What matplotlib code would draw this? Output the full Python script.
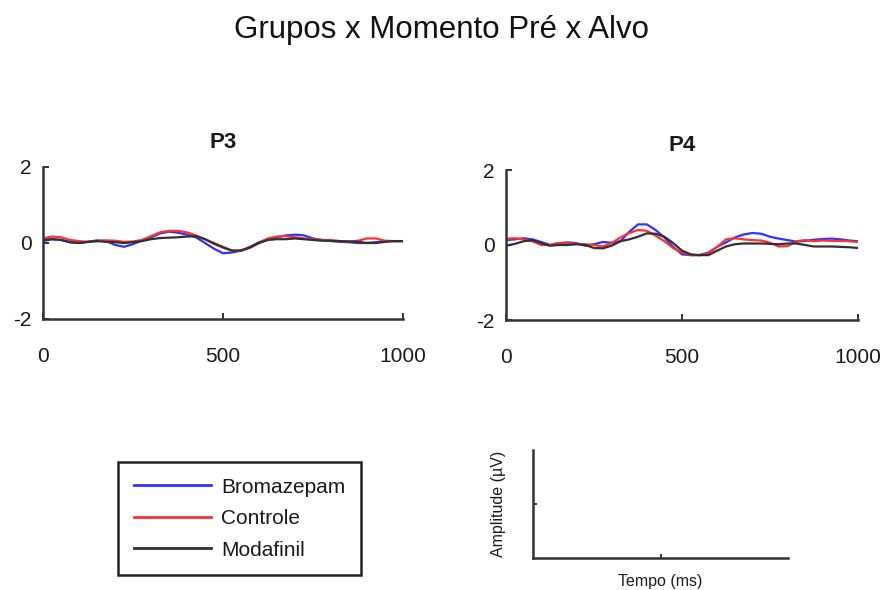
import matplotlib
matplotlib.use("Agg")
import matplotlib.pyplot as plt
from matplotlib.lines import Line2D

plt.rcParams['font.family'] = ['Liberation Sans', 'DejaVu Sans']

title = "Grupos x Momento Pré x Alvo"
groups = ["Bromazepam", "Controle", "Modafinil"]
colors = ["#3030ff", "#ff3030", "#303030"]
time_ms = list(range(0, 1001, 25))

p3_bromazepam = [0.05, 0.10, 0.08, 0.02, 0.00, 0.03, 0.07, 0.05, -0.05, -0.10, -0.03,
                 0.07, 0.15, 0.25, 0.30, 0.27, 0.22, 0.15, 0.00, -0.15, -0.27, -0.25,
                 -0.20, -0.10, 0.02, 0.10, 0.15, 0.20, 0.22, 0.20, 0.12, 0.08, 0.05,
                 0.03, 0.02, 0.00, 0.00, 0.02, 0.05, 0.05, 0.05]
p3_controle = [0.12, 0.17, 0.15, 0.08, 0.05, 0.03, 0.05, 0.07, 0.06, 0.03, 0.04,
               0.08, 0.18, 0.28, 0.32, 0.32, 0.28, 0.20, 0.10, 0.00, -0.10, -0.20,
               -0.20, -0.12, 0.00, 0.12, 0.17, 0.18, 0.15, 0.12, 0.10, 0.08, 0.07,
               0.05, 0.04, 0.06, 0.12, 0.12, 0.06, 0.05, 0.05]
p3_modafinil = [0.08, 0.10, 0.08, 0.02, 0.00, 0.03, 0.05, 0.03, 0.02, 0.00, 0.02,
                0.05, 0.10, 0.13, 0.14, 0.15, 0.17, 0.18, 0.10, -0.02, -0.12, -0.20,
                -0.20, -0.12, 0.00, 0.08, 0.10, 0.10, 0.12, 0.10, 0.08, 0.06, 0.06,
                0.05, 0.04, 0.03, 0.00, 0.00, 0.03, 0.05, 0.05]

p4_bromazepam = [0.13, 0.15, 0.18, 0.15, 0.08, 0.00, 0.05, 0.07, 0.05, -0.02, 0.02,
                 0.08, 0.06, 0.10, 0.35, 0.55, 0.55, 0.40, 0.20, -0.05, -0.25, -0.27,
                 -0.27, -0.20, -0.05, 0.07, 0.20, 0.28, 0.32, 0.30, 0.22, 0.17, 0.13,
                 0.09, 0.11, 0.14, 0.16, 0.17, 0.15, 0.12, 0.10]
p4_controle = [0.17, 0.18, 0.15, 0.10, 0.00, 0.00, 0.05, 0.05, 0.03, 0.02, 0.00,
               -0.04, 0.05, 0.20, 0.32, 0.40, 0.38, 0.25, 0.10, -0.08, -0.20, -0.27,
               -0.27, -0.22, -0.05, 0.15, 0.18, 0.15, 0.13, 0.12, 0.06, -0.04, -0.03,
               0.10, 0.13, 0.10, 0.12, 0.11, 0.11, 0.10, 0.08]
p4_modafinil = [-0.02, 0.03, 0.10, 0.13, 0.05, -0.02, 0.00, 0.00, 0.02, 0.00, -0.08,
                -0.09, -0.02, 0.10, 0.15, 0.22, 0.31, 0.30, 0.22, 0.05, -0.15, -0.25,
                -0.27, -0.27, -0.15, -0.04, 0.02, 0.04, 0.04, 0.04, 0.03, 0.02, 0.04,
                0.04, 0.00, -0.04, -0.04, -0.04, -0.05, -0.06, -0.08]

panels = [("P3", [p3_bromazepam, p3_controle, p3_modafinil]),
          ("P4", [p4_bromazepam, p4_controle, p4_modafinil])]
x_ticks = [0, 500, 1000]
y_ticks = [-2, 0, 2]

W, H = 883, 590
fig = plt.figure(figsize=(W / 100, H / 100), dpi=100)

def frac(l, t, r, b):
    return [l / W, 1 - b / H, (r - l) / W, (b - t) / H]

axes_boxes = [frac(43, 167, 403, 319), frac(506, 170, 858, 320)]
spine_col = "#333333"
txt_col = "#1a1a1a"

for (name, series), box in zip(panels, axes_boxes):
    ax = fig.add_axes(box)
    for s, c, g in zip(series, colors, groups):
        ax.plot(time_ms, s, color=c, lw=1.6, label=g)
    ax.set_xlim(0, 1000)
    ax.set_ylim(-2, 2)
    ax.set_xticks(x_ticks)
    ax.set_xticklabels([str(v) for v in x_ticks])
    ax.set_yticks(y_ticks)
    ax.set_yticklabels([str(v) for v in y_ticks])
    for sp in ["top", "right"]:
        ax.spines[sp].set_visible(False)
    for sp in ["left", "bottom"]:
        ax.spines[sp].set_color(spine_col)
        ax.spines[sp].set_linewidth(1.8)
    ax.tick_params(axis="x", direction="in", length=4, width=1.4, color=spine_col,
                   pad=20, labelsize=15, labelcolor=txt_col)
    ax.tick_params(axis="y", direction="in", length=4, width=1.4, color=spine_col,
                   pad=8, labelsize=15, labelcolor=txt_col)
    ax.set_title(name, fontsize=16, fontweight="bold", pad=14, color=txt_col)

# Legend
handles = [Line2D([0], [0], color=c, lw=2) for c in colors]
leg = fig.legend(handles, groups, loc="upper left",
                 bbox_to_anchor=(118 / W, 1 - 462 / H), borderaxespad=0,
                 fancybox=False, edgecolor="#222222", framealpha=1,
                 fontsize=15, handlelength=3.7, handletextpad=0.5,
                 labelspacing=0.6, borderpad=0.75)
leg.get_frame().set_linewidth(1.8)
for t in leg.get_texts():
    t.set_color(txt_col)

# Scale axes
axs = fig.add_axes(frac(533, 450, 788, 558))
axs.set_xlim(0, 1)
axs.set_ylim(0, 1)
axs.set_xticks([0.5])
axs.set_yticks([0.5])
axs.set_xticklabels([])
axs.set_yticklabels([])
for sp in ["top", "right"]:
    axs.spines[sp].set_visible(False)
for sp in ["left", "bottom"]:
    axs.spines[sp].set_color(spine_col)
    axs.spines[sp].set_linewidth(1.8)
axs.tick_params(direction="in", length=3, width=1.4, color=spine_col)
axs.set_xlabel("Tempo (ms)", fontsize=11.5, labelpad=8, color=txt_col)
axs.set_ylabel("Amplitude (µV)", fontsize=11.5, labelpad=16, color=txt_col)

fig.text(0.5, 1 - 30 / H, title, ha="center", va="center", fontsize=22.5, color="#111111")

fig.savefig("out.png", dpi=100)
